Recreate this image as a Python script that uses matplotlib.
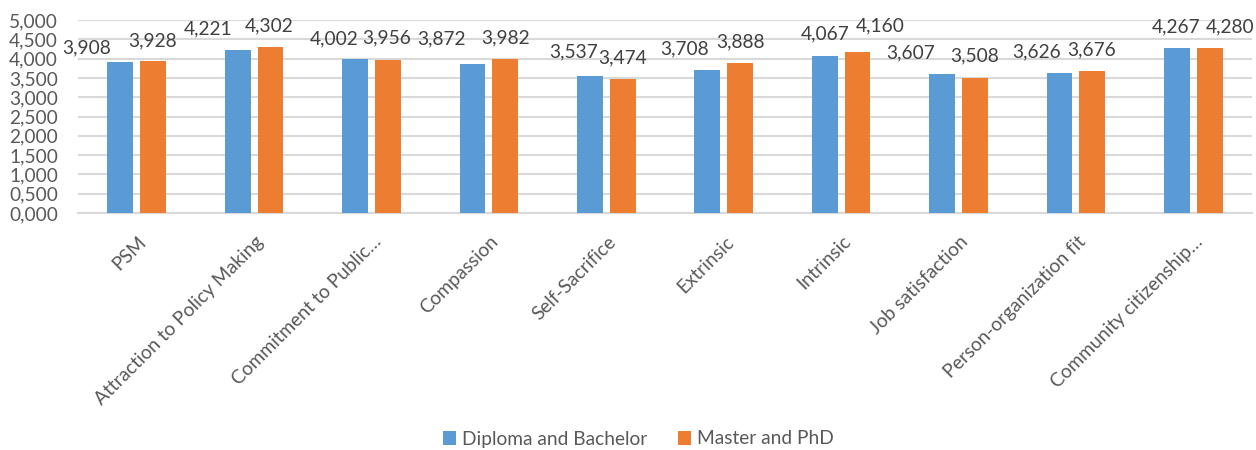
"""Mean scores by education level, two groups side by side."""
import numpy as np
import matplotlib
matplotlib.use("Agg")
from matplotlib import pyplot as plt
from matplotlib.transforms import ScaledTranslation

categories = [
    "PSM",
    "Attraction to Policy Making",
    "Commitment to Public\u2026",
    "Compassion",
    "Self-Sacrifice",
    "Extrinsic",
    "Intrinsic",
    "Job satisfaction",
    "Person-organization fit",
    "Community citizenship\u2026",
]
diploma_bachelor = [3.908, 4.221, 4.002, 3.872, 3.537, 3.708, 4.067, 3.607, 3.626, 4.267]
master_phd = [3.928, 4.302, 3.956, 3.982, 3.474, 3.888, 4.160, 3.508, 3.676, 4.280]
series_names = ["Diploma and Bachelor", "Master and PhD"]
yticks = np.arange(0, 5.0001, 0.5)

# label nudges in pixels (dx, dy from bar top)
blue_dx = [-34, -30, -21, -31, -16, -23, 0, -31, -23, -1]
blue_dy = [14, 21, 20, 25, 25, 21, 22, 21, 21, 21]
orange_dx = [-1, -1, -1, 0, 0, 0, 23, 0, -1, 20]
orange_dy = [21, 21, 22, 21, 21, 21, 27, 22, 21, 21]

BLUE = "#5B9BD5"
ORANGE = "#ED7D31"
TEXT = "#595959"
GRID = "#D9D9D9"
FS = 13.8

plt.rcParams["font.family"] = ["Lato", "DejaVu Sans"]


def fmt(v):
    return f"{v:.3f}".replace(".", ",")


def plot():
    fig = plt.figure(figsize=(12.56, 4.5), dpi=100)
    ax = fig.add_axes([78 / 1256, 1 - 213 / 450, (1252 - 78) / 1256, 193 / 450])

    x = np.arange(len(categories))
    w = 0.22
    off = 0.14
    b1 = ax.bar(x - off, diploma_bachelor, w, color=BLUE, label=series_names[0], zorder=3)
    b2 = ax.bar(x + off, master_phd, w, color=ORANGE, label=series_names[1], zorder=3)

    for i, v in enumerate(diploma_bachelor):
        ax.annotate(fmt(v), xy=(x[i] - off, v), xytext=(blue_dx[i], blue_dy[i]),
                    textcoords="offset pixels", ha="center", va="center",
                    fontsize=FS, color="#404040")
    for i, v in enumerate(master_phd):
        ax.annotate(fmt(v), xy=(x[i] + off, v), xytext=(orange_dx[i], orange_dy[i]),
                    textcoords="offset pixels", ha="center", va="center",
                    fontsize=FS, color="#404040")

    ax.set_xlim(-0.5, len(categories) - 0.5)
    ax.set_ylim(0, 5)
    ax.set_yticks(yticks)
    ax.set_yticklabels([fmt(t) for t in yticks], fontsize=FS, color=TEXT)
    ax.yaxis.grid(True, color=GRID, linewidth=1.5, zorder=0)
    ax.tick_params(axis="both", length=0)
    ax.tick_params(axis="y", pad=14.4)
    for side in ("top", "right", "left"):
        ax.spines[side].set_visible(False)
    ax.spines["bottom"].set_color(GRID)
    ax.spines["bottom"].set_linewidth(1.5)

    ax.set_xticks(x)
    ax.set_xticklabels(categories, rotation=45, ha="right", va="top",
                       rotation_mode="anchor", fontsize=FS, color=TEXT)
    shift = ScaledTranslation(1 / 100, -15 / 100, fig.dpi_scale_trans)
    for lbl in ax.get_xticklabels():
        lbl.set_transform(lbl.get_transform() + shift)

    fig.legend(handles=[b1, b2], loc="center", bbox_to_anchor=(638 / 1256, 1 - 439 / 450),
               ncol=2, frameon=False, fontsize=FS, labelcolor=TEXT,
               handlelength=0.7, handleheight=0.7, handletextpad=0.3,
               columnspacing=1.6)

    fig.savefig("out.png", dpi=100)


if __name__ == "__main__":
    plot()
